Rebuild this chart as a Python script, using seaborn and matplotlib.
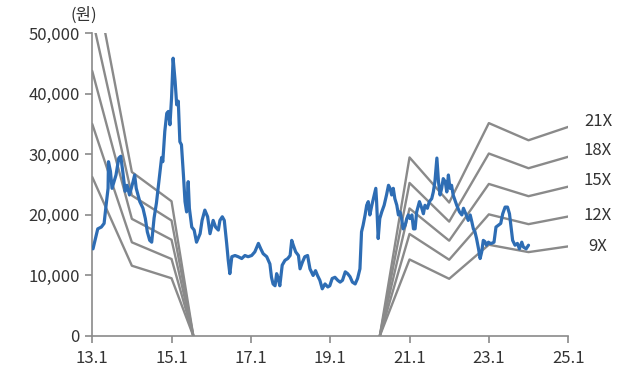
import matplotlib
matplotlib.use("Agg")
import matplotlib.pyplot as plt
import seaborn as sns
import pandas as pd

# Share price (won), x in decimal years (13.0 = Jan 2013)
price_year = [
    13.02, 13.06, 13.14, 13.23, 13.30, 13.35, 13.40, 13.41, 13.46, 13.50,
    13.55, 13.60, 13.67, 13.72, 13.77, 13.83, 13.88, 13.94, 14.03, 14.07,
    14.11, 14.20, 14.28, 14.34, 14.39, 14.45, 14.50, 14.56, 14.62, 14.68,
    14.75, 14.78, 14.83, 14.88, 14.92, 14.96, 15.00, 15.04, 15.09, 15.13,
    15.17, 15.21, 15.25, 15.30, 15.34, 15.38, 15.42, 15.45, 15.51, 15.57,
    15.63, 15.72, 15.77, 15.84, 15.91, 15.97, 16.05, 16.11, 16.18, 16.22,
    16.28, 16.33, 16.39, 16.43, 16.47, 16.52, 16.60, 16.68, 16.77, 16.85,
    16.93, 17.02, 17.10, 17.19, 17.25, 17.31, 17.40, 17.48, 17.52, 17.56,
    17.61, 17.65, 17.69, 17.73, 17.79, 17.86, 17.93, 17.99, 18.03, 18.07,
    18.13, 18.20, 18.24, 18.30, 18.36, 18.43, 18.49, 18.57, 18.63, 18.68,
    18.74, 18.80, 18.87, 18.94, 18.99, 19.05, 19.12, 19.19, 19.25, 19.31,
    19.38, 19.44, 19.50, 19.56, 19.63, 19.69, 19.75, 19.79, 19.83, 19.88,
    19.92, 19.96, 20.00, 20.05, 20.11, 20.15, 20.17, 20.21, 20.25, 20.30,
    20.36, 20.42, 20.47, 20.51, 20.55, 20.59, 20.63, 20.68, 20.72, 20.76,
    20.80, 20.84, 20.89, 20.93, 20.97, 21.01, 21.06, 21.10, 21.14, 21.18,
    21.25, 21.31, 21.35, 21.39, 21.45, 21.50, 21.56, 21.60, 21.64, 21.69,
    21.73, 21.77, 21.81, 21.85, 21.90, 21.94, 21.98, 22.02, 22.06, 22.10,
    22.19, 22.26, 22.32, 22.36, 22.43, 22.48, 22.53, 22.57, 22.61, 22.65,
    22.69, 22.74, 22.78, 22.82, 22.86, 22.90, 22.94, 22.99, 23.03, 23.07,
    23.13, 23.18, 23.24, 23.30, 23.35, 23.41, 23.47, 23.52, 23.55, 23.60,
    23.66, 23.72, 23.77, 23.83, 23.87, 23.94, 24.00,
]
price_won = [
    14400, 15500, 17700, 18000, 18600, 21600, 24400, 28800, 27200, 24400,
    25500, 26600, 29400, 29700, 27200, 23900, 24900, 23300, 25500, 26600,
    24400, 22200, 21100, 19400, 17200, 15800, 15500, 19500, 22000, 25500,
    29500, 28800, 33800, 36800, 37100, 34900, 39300, 45900, 42100, 38200,
    38800, 32100, 31600, 26600, 22200, 20500, 25500, 21100, 18000, 17500,
    15500, 16900, 19100, 20800, 19700, 16900, 19100, 18000, 17500, 19100,
    19700, 19100, 15300, 12500, 10300, 13100, 13300, 13100, 12800, 13300,
    13100, 13300, 13900, 15300, 14400, 13600, 13100, 11900, 9700, 8600,
    8300, 10300, 9500, 8300, 11700, 12500, 12800, 13300, 15800, 15000,
    13900, 13300, 11100, 12200, 13100, 13300, 11100, 10000, 10800, 10000,
    9200, 7800, 8600, 8100, 8300, 9500, 9700, 9200, 8900, 9200,
    10600, 10300, 9800, 8900, 8600, 9500, 11100, 17200, 18300, 20000,
    21600, 22200, 20000, 21600, 23300, 24400, 22200, 16100, 19400, 20500,
    21600, 23300, 24900, 24400, 23300, 24400, 22700, 21600, 20000, 20500,
    19400, 17700, 18300, 19400, 20000, 19400, 20000, 17700, 17700, 20500,
    22200, 21100, 20200, 21600, 21100, 22200, 22700, 23800, 25500, 29400,
    25500, 23300, 24400, 26000, 25500, 23800, 26600, 24400, 24900, 23300,
    21600, 20500, 20000, 21100, 20000, 19100, 20000, 18900, 17700, 17200,
    16100, 14400, 12800, 13900, 15800, 15600, 15000, 15500, 15300, 15300,
    15500, 18000, 18300, 18600, 20200, 21300, 21300, 20200, 18600, 15800,
    15000, 15300, 14400, 15500, 14700, 14400, 15000,
]

# EPS path used for the PER band (won per share)
eps_year_a = [13.0, 14.0, 15.0, 15.55]
eps_a = [2920, 1290, 1060, 0]
eps_year_b = [20.25, 21.0, 22.0, 23.0, 24.0, 25.0]
eps_b = [0, 1405, 1050, 1675, 1540, 1645]

per_multiples = [9, 12, 15, 18, 21]
per_labels = ["9X", "12X", "15X", "18X", "21X"]
label_y = [14800, 19900, 25700, 30600, 35500]

x_ticks = [13, 15, 17, 19, 21, 23, 25]
x_tick_labels = ["13.1", "15.1", "17.1", "19.1", "21.1", "23.1", "25.1"]
y_ticks = [0, 10000, 20000, 30000, 40000, 50000]

price_df = pd.DataFrame({"year": price_year, "price": price_won})

band_rows = []
for m in per_multiples:
    for seg, (yrs, eps) in enumerate([(eps_year_a, eps_a), (eps_year_b, eps_b)]):
        for yr, e in zip(yrs, eps):
            band_rows.append({"year": yr, "value": m * e, "line": f"{m}-{seg}"})
band_df = pd.DataFrame(band_rows)

sns.set_style("white")
plt.rcParams["font.family"] = ["Noto Sans CJK KR", "DejaVu Sans"]

fig = plt.figure(figsize=(6.23, 3.75), dpi=100)
ax = fig.add_axes([0.148, 0.104, 0.764, 0.807])

band_color = "#8a8a8a"
sns.lineplot(data=band_df, x="year", y="value", units="line", estimator=None,
             sort=False, color=band_color, linewidth=1.7, ax=ax, zorder=2)
sns.lineplot(data=price_df, x="year", y="price", sort=False, color="#2e6db4",
             linewidth=2.3, ax=ax, zorder=3)

ax.set_xlim(13, 25)
ax.set_ylim(0, 50000)
ax.set_xticks(x_ticks)
ax.set_xticklabels(x_tick_labels)
ax.set_yticks(y_ticks)
ax.set_yticklabels([f"{v:,}" for v in y_ticks])
ax.set_xlabel("")
ax.set_ylabel("")

text_color = "#333333"
ax.tick_params(axis="both", which="both", length=5, width=1.2, color="#8a8a8a",
               labelsize=12, labelcolor=text_color, pad=4, direction="out")
ax.tick_params(axis="x", bottom=True, pad=5)
ax.tick_params(axis="y", left=True)
for side in ["top", "right"]:
    ax.spines[side].set_visible(False)
for side in ["left", "bottom"]:
    ax.spines[side].set_color("#8a8a8a")
    ax.spines[side].set_linewidth(1.2)

for lab, yv in zip(per_labels, label_y):
    ax.text(25.75, yv, lab, ha="center", va="center", fontsize=12,
            color=text_color, clip_on=False)

fig.text(0.135, 0.960, "(원)", ha="center", va="center", fontsize=12,
         color=text_color)

fig.savefig("out.png", dpi=100)
